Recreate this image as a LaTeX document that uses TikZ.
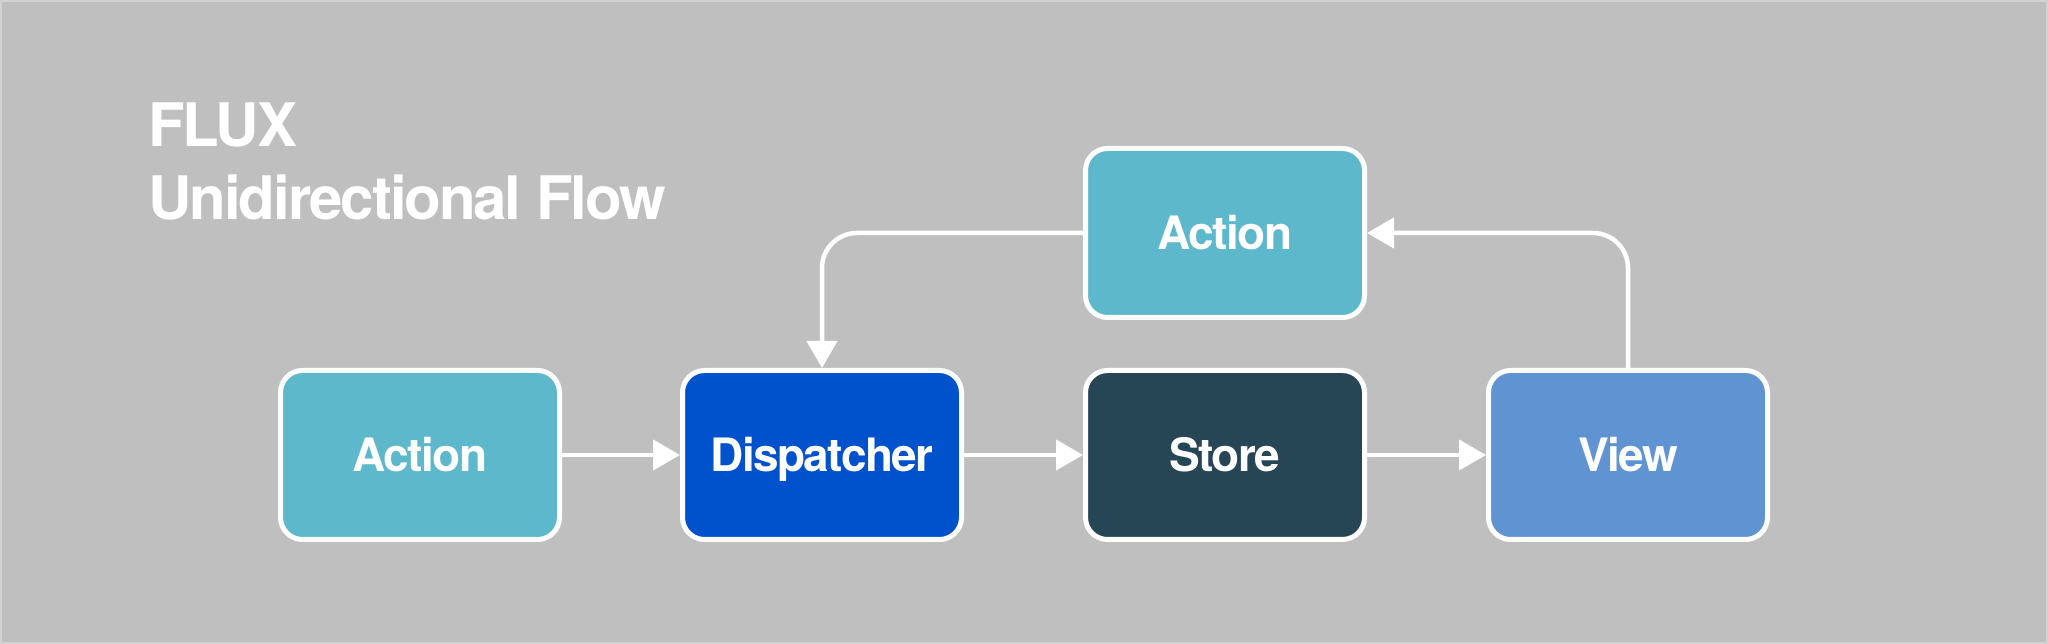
\documentclass[tikz,border=0pt]{standalone}
\usepackage{fontspec}
\setmainfont{TeX Gyre Heros}[LetterSpace=-3.5]
\usetikzlibrary{arrows.meta}

\definecolor{bgcol}{HTML}{BFBFBF}
\definecolor{framecol}{HTML}{D2D2D2}
\definecolor{actioncol}{HTML}{5DB8CC}
\definecolor{dispcol}{HTML}{0052CC}
\definecolor{storecol}{HTML}{264655}
\definecolor{viewcol}{HTML}{5F93D2}

\begin{document}
\begin{tikzpicture}[x=1pt, y=1pt,
    box/.style={draw=white, line width=5pt, rounded corners=22pt,
        minimum width=279pt, minimum height=169pt,
        text=white, font=\fontsize{46pt}{50pt}\selectfont\bfseries,
        text height=33pt, text depth=0pt},
    flow/.style={draw=white, line width=4.5pt, -{Triangle[length=27pt, width=30pt]}},
    heading/.style={anchor=base west, inner sep=0pt, text=white,
        font=\fontsize{60pt}{66pt}\selectfont\bfseries}]

    % background
    \fill[bgcol] (0, 0) rectangle (2048, 644);
    \draw[framecol, line width=2pt] (1, 1) rectangle (2047, 643);
    \useasboundingbox (0, 0) rectangle (2048, 644);

    % title
    \node [heading] (flux) at (148, 497) {FLUX};
    \node [heading] (subtitle) at (148, 424) {Unidirectional Flow};

    % boxes
    \node [box, fill=actioncol] (action) at (420, 189) {Action};
    \node [box, fill=dispcol] (dispatcher) at (822, 189) {Dispatcher};
    \node [box, fill=storecol] (store) at (1225, 189) {Store};
    \node [box, fill=viewcol] (view) at (1628, 189) {View};
    \node [box, fill=actioncol] (newaction) at (1225, 411) {Action};

    % flow
    \draw[flow] (action) -- (dispatcher);
    \draw[flow] (dispatcher) -- (store);
    \draw[flow] (store) -- (view);
    \draw[flow, rounded corners=35pt] (view.north) |- (newaction.east);
    \draw[flow, rounded corners=35pt] (newaction.west) -| (dispatcher.north);
\end{tikzpicture}
\end{document}
